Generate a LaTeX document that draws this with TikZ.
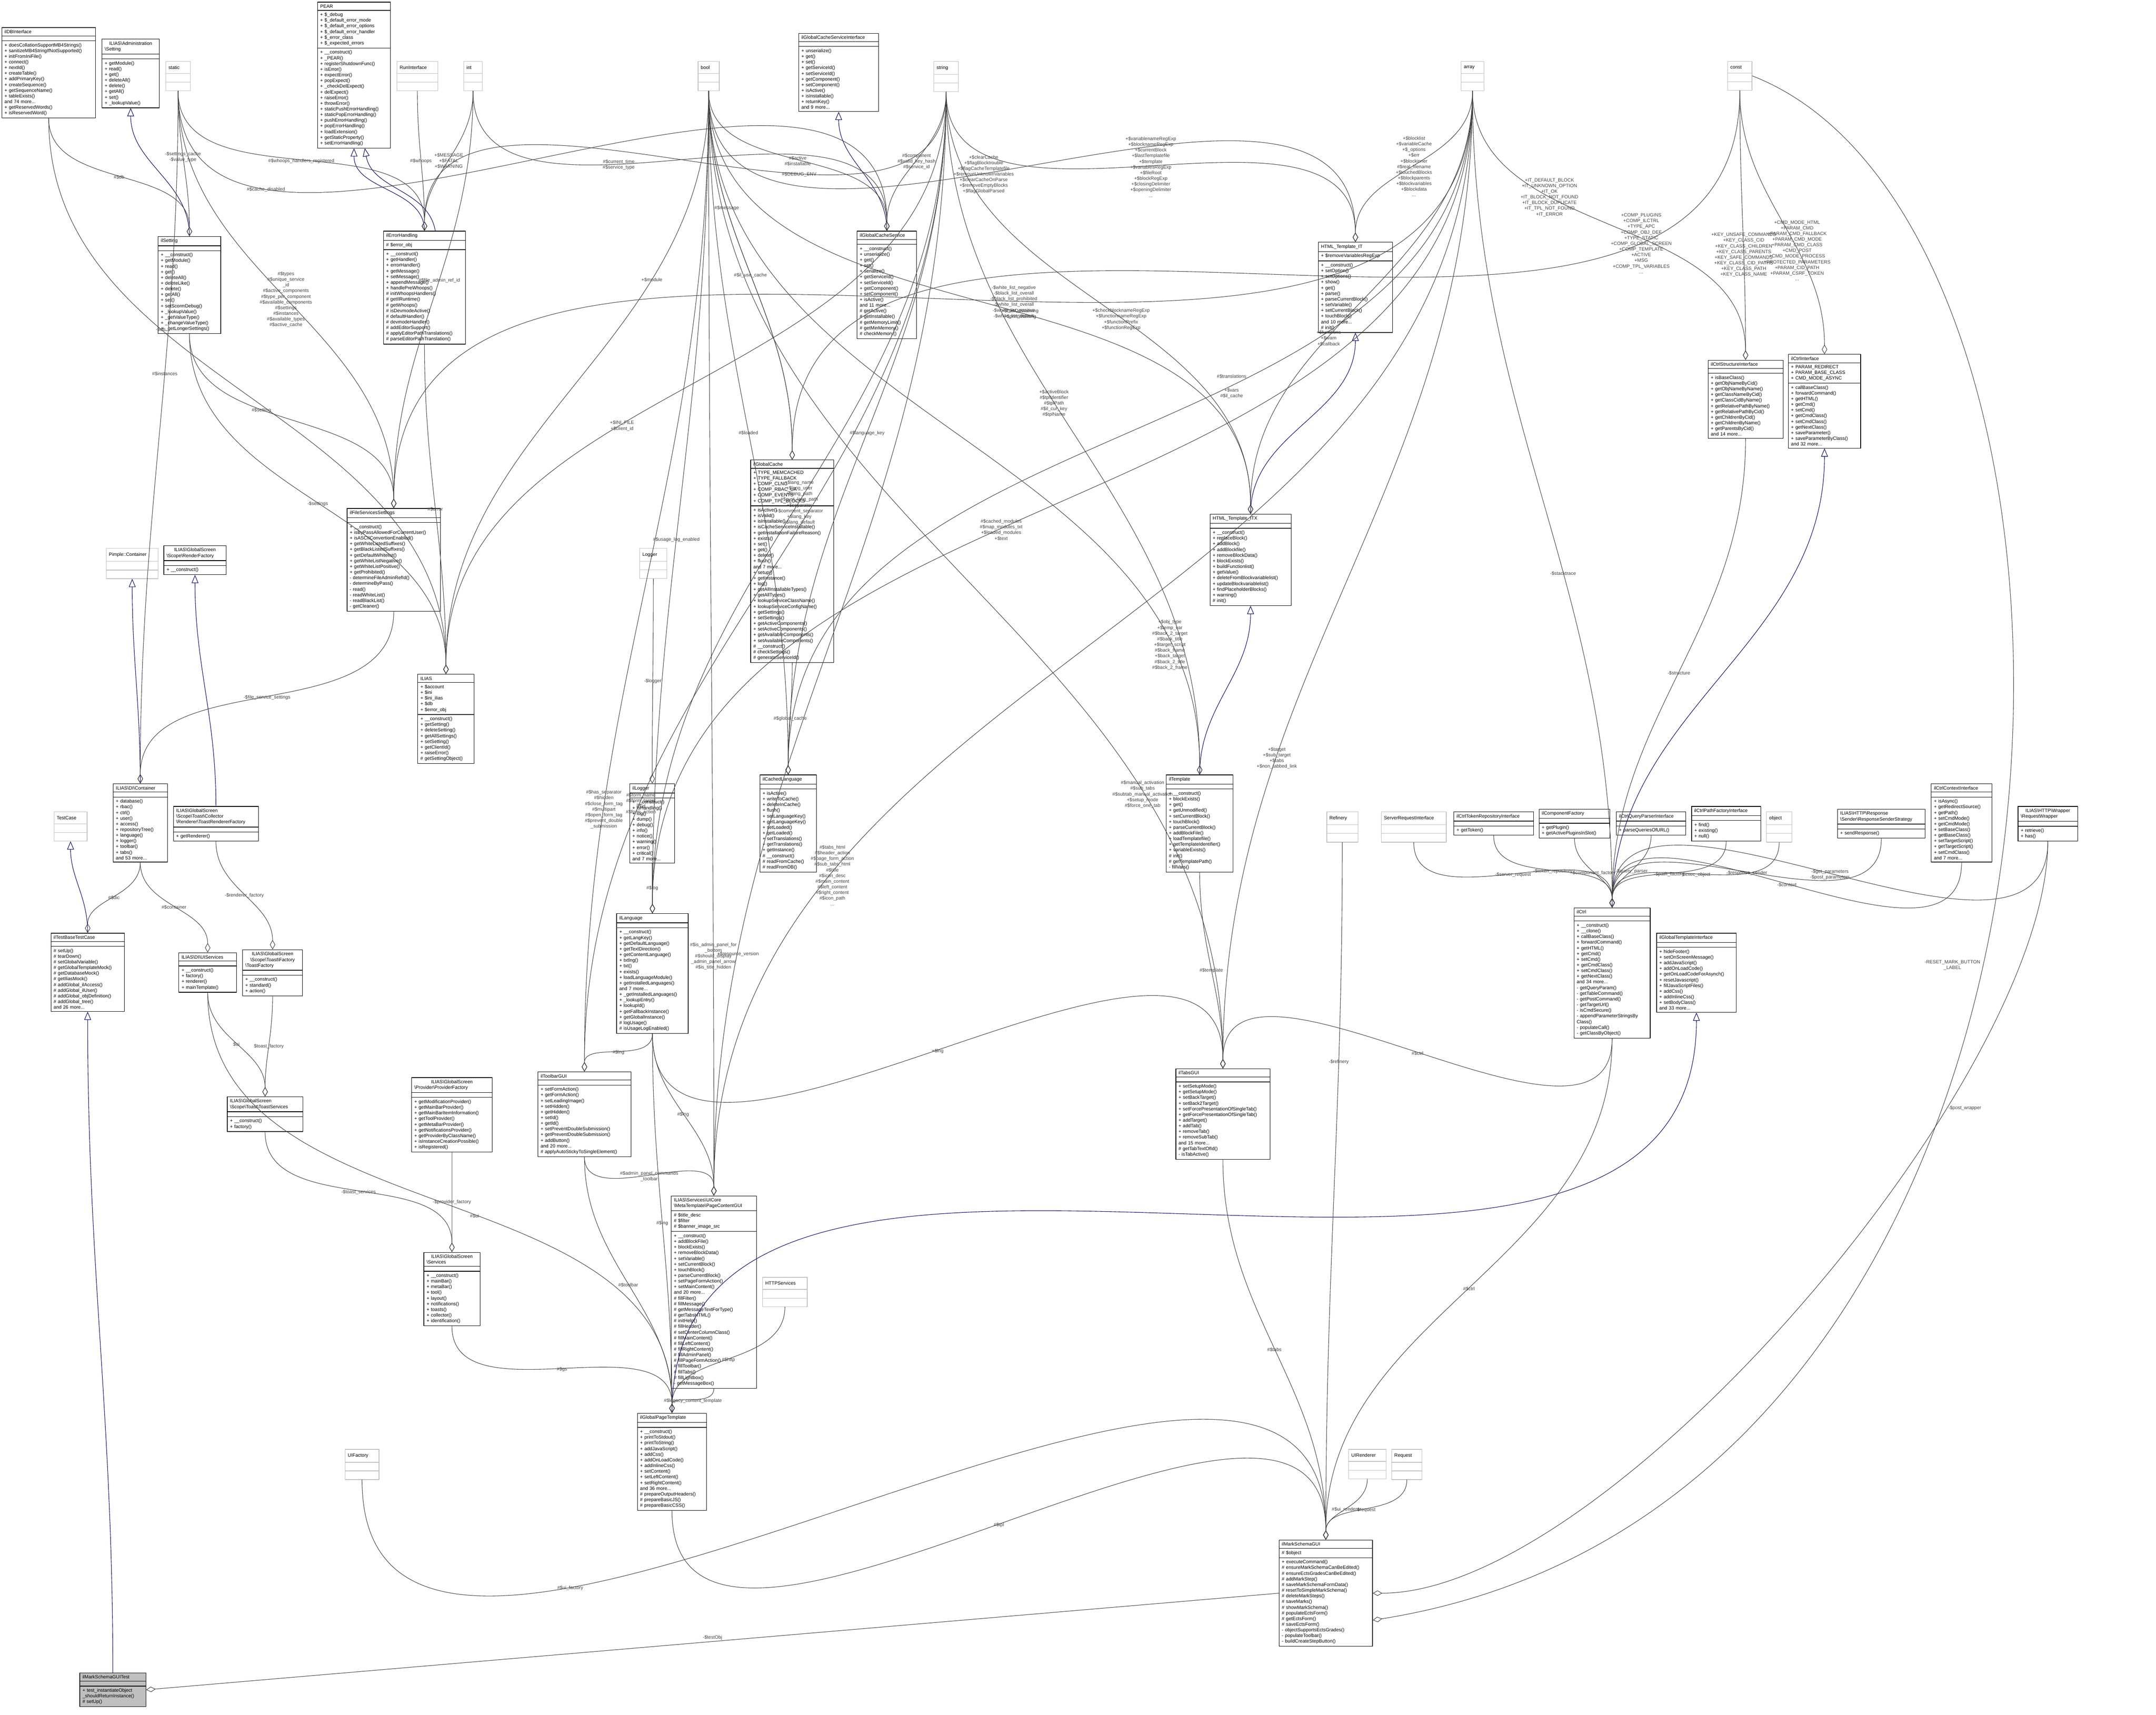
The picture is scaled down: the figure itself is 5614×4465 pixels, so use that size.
\documentclass[tikz,border=0pt]{standalone}
\usepackage{fontspec}
\setmainfont{Liberation Sans}
\usetikzlibrary{shapes.multipart}
\usetikzlibrary{arrows.meta}

\tikzset{
  every node/.style = {font = \fontsize{3.5}{4.2}\selectfont},
  cls/.style = {draw, rectangle split, rectangle split parts = 3,
    anchor = north west, align = left, inner xsep = 2pt, inner ysep = 1.6pt,
    rectangle split empty part height = 3pt, line width = .4pt},
  ext/.style = {cls, draw = black!25, inner ysep = 3pt,
    rectangle split empty part height = 4pt},
  mem/.style = {-{Diamond[open, length = 7pt, width = 4pt]}, black!75,
    line width = .35pt},
  inh/.style = {-{Triangle[open, length = 6pt, width = 5pt]}, blue!40!black,
    line width = .35pt},
  lbl/.style = {align = center, inner sep = 1pt}
}
\newcommand{\ttl}[1]{\centering #1}

\begin{document}
\begin{tikzpicture}[x = .01cm, y = -.01cm, line join = round, line cap = round]
  \useasboundingbox (0, 0) rectangle (5614, 4465);

  % top row
  \node[cls, text width = 2.3cm] (dbi) at (4, 71) {\ttl{ilDBInterface}
    \nodepart{two}\nodepart{three}+ doesCollationSupportMB4Strings()\\
    + sanitizeMB4StringIfNotSupported()\\+ initFromIniFile()\\+ connect()\\
    + nextId()\\+ createTable()\\+ addPrimaryKey()\\+ createSequence()\\
    + getSequenceName()\\+ tableExists()\\and 74 more...\\
    + getReservedWords()\\+ isReservedWord()};
  \node[cls, text width = 1.35cm] (admset) at (265, 101)
  {\ttl{ILIAS\textbackslash Administration\\\textbackslash Setting}
    \nodepart{two}\nodepart{three}+ getModule()\\+ read()\\+ get()\\
    + deleteAll()\\+ delete()\\+ getAll()\\+ set()\\+ \_lookupValue()};
  \node[ext, text width = .5cm] (static) at (431, 159) {\ttl{static}
    \nodepart{two}\nodepart{three}};
  \node[cls, text width = 1.76cm] (pear) at (826, 5) {\ttl{PEAR}
    \nodepart{two}+ \$\_debug\\+ \$\_default\_error\_mode\\
    + \$\_default\_error\_options\\+ \$\_default\_error\_handler\\
    + \$\_error\_class\\+ \$\_expected\_errors
    \nodepart{three}+ \_\_construct()\\+ \_PEAR()\\
    + registerShutdownFunc()\\+ isError()\\+ expectError()\\+ popExpect()\\
    + \_checkDelExpect()\\+ delExpect()\\+ raiseError()\\+ throwError()\\
    + staticPushErrorHandling()\\+ staticPopErrorHandling()\\
    + pushErrorHandling()\\+ popErrorHandling()\\+ loadExtension()\\
    + getStaticProperty()\\+ setErrorHandling()};
  \node[ext, text width = .92cm] (runif) at (1033, 159) {\ttl{RunInterface}
    \nodepart{two}\nodepart{three}};
  \node[ext, text width = .34cm] (int) at (1207, 159) {\ttl{int}
    \nodepart{two}\nodepart{three}};
  \node[ext, text width = .41cm] (bool) at (1817, 159) {\ttl{bool}
    \nodepart{two}\nodepart{three}};
  \node[cls, text width = 1.94cm] (gcsi) at (2079, 86)
  {\ttl{ilGlobalCacheServiceInterface}\nodepart{two}\nodepart{three}
    + unserialize()\\+ get()\\+ set()\\+ getServiceId()\\+ setServiceId()\\
    + getComponent()\\+ setComponent()\\+ isActive()\\+ isInstallable()\\
    + returnKey()\\and 9 more...};
  \node[ext, text width = .5cm] (string) at (2431, 159) {\ttl{string}
    \nodepart{two}\nodepart{three}};
  \node[ext, text width = .45cm] (array) at (3804, 159) {\ttl{array}
    \nodepart{two}\nodepart{three}};
  \node[ext, text width = .49cm] (const) at (4498, 159) {\ttl{const}
    \nodepart{two}\nodepart{three}};

  % second row
  \node[cls, text width = 1.49cm] (ilsetting) at (411, 615) {\ttl{ilSetting}
    \nodepart{two}\nodepart{three}+ \_\_construct()\\+ getModule()\\+ read()\\
    + get()\\+ deleteAll()\\+ deleteLike()\\+ delete()\\+ getAll()\\+ set()\\
    + setScormDebug()\\+ \_lookupValue()\\+ \_getValueType()\\
    + \_changeValueType()\\+ \_getLongerSettings()};
  \node[cls, text width = 1.99cm] (errh) at (998, 601) {\ttl{ilErrorHandling}
    \nodepart{two}\# \$error\_obj\nodepart{three}+ \_\_construct()\\
    + getHandler()\\+ errorHandler()\\+ getMessage()\\+ setMessage()\\
    + appendMessage()\\+ handlePreWhoops()\\\# initWhoopsHandlers()\\
    \# getIlRuntime()\\\# getWhoops()\\\# isDevmodeActive()\\
    \# defaultHandler()\\\# devmodeHandler()\\\# addEditorSupport()\\
    \# applyEditorPathTranslations()\\\# parseEditorPathTranslation()};
  \node[cls, text width = 1.41cm] (gcs) at (2231, 601)
  {\ttl{ilGlobalCacheService}\nodepart{two}\nodepart{three}+ \_\_construct()\\
    + unserialize()\\+ get()\\+ set()\\+ serialize()\\+ getServiceId()\\
    + setServiceId()\\+ getComponent()\\+ setComponent()\\+ isActive()\\
    and 11 more...\\\# getActive()\\\# getInstallable()\\
    \# getMemoryLimit()\\\# getMinMemory()\\\# checkMemory()};
  \node[cls, text width = 1.79cm] (htmlit) at (3432, 630)
  {\ttl{HTML\_Template\_IT}\nodepart{two}+ \$removeVariablesRegExp
    \nodepart{three}+ \_\_construct()\\+ setOption()\\+ setOptions()\\
    + show()\\+ get()\\+ parse()\\+ parseCurrentBlock()\\+ setVariable()\\
    + setCurrentBlock()\\+ touchBlock()\\and 10 more...\\\# init()};
  \node[cls, text width = 1.81cm] (ctrlstruct) at (4447, 937)
  {\ttl{ilCtrlStructureInterface}\nodepart{two}\nodepart{three}
    + isBaseClass()\\+ getObjNameByCid()\\+ getObjNameByName()\\
    + getClassNameByCid()\\+ getClassCidByName()\\
    + getRelativePathByName()\\+ getRelativePathByCid()\\
    + getChildrenByCid()\\+ getChildrenByName()\\+ getParentsByCid()\\
    and 14 more...};
  \node[cls, text width = 1.74cm] (ctrlif) at (4656, 922)
  {\ttl{ilCtrlInterface}\nodepart{two}+ PARAM\_REDIRECT\\
    + PARAM\_BASE\_CLASS\\+ CMD\_MODE\_ASYNC\nodepart{three}
    + callBaseClass()\\+ forwardCommand()\\+ getHTML()\\+ getCmd()\\
    + setCmd()\\+ getCmdClass()\\+ setCmdClass()\\+ getNextClass()\\
    + saveParameter()\\+ saveParameterByClass()\\and 32 more...};

  % third row
  \node[cls, text width = 2.29cm] (fss) at (903, 1323)
  {\ttl{ilFileServicesSettings}\nodepart{two}\nodepart{three}
    + \_\_construct()\\+ isByPassAllowedForCurrentUser()\\
    + isASCIIConvertionEnabled()\\+ getWhiteListedSuffixes()\\
    + getBlackListedSuffixes()\\+ getDefaultWhitelist()\\
    + getWhiteListNegative()\\+ getWhiteListPositive()\\+ getProhibited()\\
    - determineFileAdminRefId()\\- determineByPass()\\- read()\\
    - readWhiteList()\\- readBlackList()\\- getCleaner()};
  \node[ext, text width = 1.21cm] (pimple) at (276, 1427)
  {\ttl{Pimple::Container}\nodepart{two}\nodepart{three}};
  \node[cls, text width = 1.48cm] (renderfac) at (426, 1420)
  {\ttl{ILIAS\textbackslash GlobalScreen\\\textbackslash Scope\textbackslash
    RenderFactory}\nodepart{two}\nodepart{three}+ \_\_construct()};
  \node[ext, text width = .57cm] (logger) at (1665, 1427) {\ttl{Logger}
    \nodepart{two}\nodepart{three}};
  \node[cls, text width = 2.02cm] (gcache) at (1954, 1197)
  {\ttl{ilGlobalCache}\nodepart{two}+ TYPE\_MEMCACHED\\+ TYPE\_FALLBACK\\
    + COMP\_CLNG\\+ COMP\_RBAC\_UA\\+ COMP\_EVENTS\\+ COMP\_TPL\_BLOCKS
    \nodepart{three}+ isActive()\\+ isValid()\\+ isInstallable()\\
    + isCacheServiceInstallable()\\+ getInstallationFailureReason()\\
    + exists()\\+ set()\\+ get()\\+ delete()\\+ flush()\\and 7 more...\\
    + setup()\\+ getInstance()\\+ log()\\+ getAllInstallableTypes()\\
    + getAllTypes()\\+ lookupServiceClassName()\\
    + lookupServiceConfigName()\\+ getSettings()\\+ setSettings()\\
    + getActiveComponents()\\+ setActiveComponents()\\
    + getAvailableComponents()\\+ setAvailableComponents()\\
    \# \_\_construct()\\\# checkSettings()\\\# generateServiceId()};
  \node[cls, text width = 1.97cm] (itx) at (3150, 1338)
  {\ttl{HTML\_Template\_ITX}\nodepart{two}\nodepart{three}+ \_\_construct()\\
    + replaceBlock()\\+ addBlock()\\+ addBlockfile()\\+ removeBlockData()\\
    + blockExists()\\+ buildFunctionlist()\\+ getValue()\\
    + deleteFromBlockvariablelist()\\+ updateBlockvariablelist()\\
    + findPlaceholderBlocks()\\+ warning()\\\# init()};

  % fourth row
  \node[cls, text width = 1.33cm] (ilias) at (1087, 1755) {\ttl{ILIAS}
    \nodepart{two}+ \$account\\+ \$ini\\+ \$ini\_ilias\\+ \$db\\
    + \$error\_obj\nodepart{three}+ \_\_construct()\\+ getSetting()\\
    + deleteSetting()\\+ getAllSettings()\\+ setSetting()\\+ getClientId()\\
    + raiseError()\\\# getSettingObject()};
  \node[cls, text width = 1.27cm] (dicont) at (294, 2040)
  {\ttl{ILIAS\textbackslash DI\textbackslash Container}\nodepart{two}
    \nodepart{three}+ database()\\+ rbac()\\+ ctrl()\\+ user()\\+ access()\\
    + repositoryTree()\\+ language()\\+ logger()\\+ toolbar()\\+ tabs()\\
    and 53 more...};
  \node[ext, text width = .72cm] (testcase) at (140, 2113) {\ttl{TestCase}
    \nodepart{two}\nodepart{three}};
  \node[cls, text width = 2.07cm] (toastrend) at (451, 2099)
  {ILIAS\textbackslash GlobalScreen\\\textbackslash Scope\textbackslash
    Toast\textbackslash Collector\\\textbackslash Renderer\textbackslash
    ToastRendererFactory\nodepart{two}\nodepart{three}+ getRenderer()};
  \node[cls, text width = 1.03cm] (illogger) at (1639, 2040)
  {\ttl{ilLogger}\nodepart{two}\nodepart{three}+ \_\_construct()\\
    + isHandling()\\+ log()\\+ dump()\\+ debug()\\+ info()\\+ notice()\\
    + warning()\\+ error()\\+ critical()\\and 7 more...};
  \node[cls, text width = 1.33cm] (cachedlang) at (1978, 2017)
  {\ttl{ilCachedLanguage}\nodepart{two}\nodepart{three}+ isActive()\\
    + writeToCache()\\+ deleteInCache()\\+ flush()\\+ setLanguageKey()\\
    + getLanguageKey()\\+ setLoaded()\\+ getLoaded()\\+ setTranslations()\\
    + getTranslations()\\+ getInstance()\\\# \_\_construct()\\
    \# readFromCache()\\\# readFromDB()};
  \node[cls, text width = 1.6cm] (iltpl) at (3036, 2017) {\ttl{ilTemplate}
    \nodepart{two}\nodepart{three}+ \_\_construct()\\+ blockExists()\\
    + get()\\+ getUnmodified()\\+ setCurrentBlock()\\+ touchBlock()\\
    + parseCurrentBlock()\\+ addBlockFile()\\+ loadTemplatefile()\\
    + getTemplateIdentifier()\\+ variableExists()\\\# init()\\
    \# getTemplatePath()\\- fillVars()};
  \node[ext, text width = .67cm] (refinery) at (3454, 2113) {\ttl{Refinery}
    \nodepart{two}\nodepart{three}};
  \node[ext, text width = 1.55cm] (serverreq) at (3596, 2113)
  {\ttl{ServerRequestInterface}\nodepart{two}\nodepart{three}};
  \node[cls, text width = 1.93cm] (token) at (3785, 2113)
  {\ttl{ilCtrlTokenRepositoryInterface}\nodepart{two}\nodepart{three}
    + getToken()};
  \node[cls, text width = 1.7cm] (compfac) at (4007, 2106)
  {\ttl{ilComponentFactory}\nodepart{two}\nodepart{three}+ getPlugin()\\
    + getActivePluginsInSlot()};
  \node[cls, text width = 1.67cm] (qparser) at (4208, 2113)
  {\ttl{ilCtrlQueryParserInterface}\nodepart{two}\nodepart{three}
    + parseQueriesOfURL()};
  \node[cls, text width = 1.66cm] (pathfac) at (4404, 2099)
  {\ttl{ilCtrlPathFactoryInterface}\nodepart{two}\nodepart{three}+ find()\\
    + existing()\\+ null()};
  \node[ext, text width = .52cm] (object) at (4599, 2113) {\ttl{object}
    \nodepart{two}\nodepart{three}};
  \node[cls, text width = 2.14cm] (respsend) at (4784, 2106)
  {ILIAS\textbackslash HTTP\textbackslash Response\\\textbackslash
    Sender\textbackslash ResponseSenderStrategy\nodepart{two}\nodepart{three}
    + sendResponse()};
  \node[cls, text width = 1.44cm] (ctxif) at (5028, 2040)
  {\ttl{ilCtrlContextInterface}\nodepart{two}\nodepart{three}+ isAsync()\\
    + getRedirectSource()\\+ getPath()\\+ setCmdMode()\\+ getCmdMode()\\
    + setBaseClass()\\+ getBaseClass()\\+ setTargetScript()\\
    + getTargetScript()\\+ setCmdClass()\\and 7 more...};
  \node[cls, text width = 1.41cm] (reqwrap) at (5254, 2099)
  {\ttl{ILIAS\textbackslash HTTP\textbackslash Wrapper\\\textbackslash
    RequestWrapper}\nodepart{two}\nodepart{three}+ retrieve()\\+ has()};

  % fifth row
  \node[cls, text width = 1.77cm] (testbase) at (132, 2429)
  {\ttl{ilTestBaseTestCase}\nodepart{two}\nodepart{three}\# setUp()\\
    \# tearDown()\\\# setGlobalVariable()\\\# getGlobalTemplateMock()\\
    \# getDatabaseMock()\\\# getIliasMock()\\\# addGlobal\_ilAccess()\\
    \# addGlobal\_ilUser()\\\# addGlobal\_objDefinition()\\
    \# addGlobal\_tree()\\and 26 more...};
  \node[cls, text width = 1.36cm] (uiserv) at (465, 2480)
  {\ttl{ILIAS\textbackslash DI\textbackslash UIServices}\nodepart{two}
    \nodepart{three}+ \_\_construct()\\+ factory()\\+ renderer()\\
    + mainTemplate()};
  \node[cls, text width = 1.42cm] (toastfac) at (631, 2472)
  {\ttl{ILIAS\textbackslash GlobalScreen\\\textbackslash Scope\textbackslash
    Toast\textbackslash Factory\\\textbackslash ToastFactory}\nodepart{two}
    \nodepart{three}+ \_\_construct()\\+ standard()\\+ action()};
  \node[cls, text width = 1.72cm] (illang) at (1605, 2378)
  {\ttl{ilLanguage}\nodepart{two}\nodepart{three}+ \_\_construct()\\
    + getLangKey()\\+ getDefaultLanguage()\\+ getTextDirection()\\
    + getContentLanguage()\\+ txtlng()\\+ txt()\\+ exists()\\
    + loadLanguageModule()\\+ getInstalledLanguages()\\and 7 more...\\
    + \_getInstalledLanguages()\\+ \_lookupEntry()\\+ lookupId()\\
    + getFallbackInstance()\\+ getGlobalInstance()\\\# logUsage()\\
    \# isUsageLogEnabled()};
  \node[cls, text width = 1.84cm] (ilctrl) at (4098, 2363) {\ttl{ilCtrl}
    \nodepart{two}\nodepart{three}+ \_\_construct()\\+ \_\_clone()\\
    + callBaseClass()\\+ forwardCommand()\\+ getHTML()\\+ getCmd()\\
    + setCmd()\\+ getCmdClass()\\+ setCmdClass()\\+ getNextClass()\\
    and 34 more...\\- getQueryParam()\\- getTableCommand()\\
    - getPostCommand()\\- getTargetUrl()\\- isCmdSecure()\\
    - appendParameterStringsBy\\Class()\\- populateCall()\\
    - getClassByObject()};
  \node[cls, text width = 1.93cm] (gtplif) at (4313, 2429)
  {\ttl{ilGlobalTemplateInterface}\nodepart{two}\nodepart{three}
    + hideFooter()\\+ setOnScreenMessage()\\+ addJavaScript()\\
    + addOnLoadCode()\\+ getOnLoadCodeForAsynch()\\+ resetJavascript()\\
    + fillJavaScriptFiles()\\+ addCss()\\+ addInlineCss()\\
    + setBodyClass()\\and 33 more...};

  % lower rows
  \node[cls, text width = 2.28cm] (toolbar) at (1400, 2790)
  {\ttl{ilToolbarGUI}\nodepart{two}\nodepart{three}+ setFormAction()\\
    + getFormAction()\\+ setLeadingImage()\\+ setHidden()\\+ getHidden()\\
    + setId()\\+ getId()\\+ setPreventDoubleSubmission()\\
    + getPreventDoubleSubmission()\\+ addButton()\\and 20 more...\\
    \# applyAutoStickyToSingleElement()};
  \node[cls, text width = 1.83cm] (toastserv) at (591, 2855)
  {ILIAS\textbackslash GlobalScreen\\\textbackslash Scope\textbackslash
    Toast\textbackslash ToastServices\nodepart{two}\nodepart{three}
    + \_\_construct()\\+ factory()};
  \node[cls, text width = 1.96cm] (provfac) at (1071, 2805)
  {\ttl{ILIAS\textbackslash GlobalScreen\\\textbackslash Provider\textbackslash
    ProviderFactory}\nodepart{two}\nodepart{three}
    + getModificationProvider()\\+ getMainBarProvider()\\
    + getMainBarItemInformation()\\+ getToolProvider()\\
    + getMetaBarProvider()\\+ getNotificationsProvider()\\
    + getProviderByClassName()\\+ isInstanceCreationPossible()\\
    + isRegistered()};
  \node[cls, text width = 2.31cm] (tabs) at (3061, 2782) {\ttl{ilTabsGUI}
    \nodepart{two}\nodepart{three}+ setSetupMode()\\+ getSetupMode()\\
    + setBackTarget()\\+ setBack2Target()\\
    + setForcePresentationOfSingleTab()\\
    + getForcePresentationOfSingleTab()\\+ addTarget()\\+ addTab()\\
    + removeTab()\\+ removeSubTab()\\and 15 more...\\\# getTabTextOfId()\\
    - isTabActive()};
  \node[cls, text width = 1.32cm] (gsserv) at (1103, 3260)
  {\ttl{ILIAS\textbackslash GlobalScreen\\\textbackslash Services}
    \nodepart{two}\nodepart{three}+ \_\_construct()\\+ mainBar()\\
    + metaBar()\\+ tool()\\+ layout()\\+ notifications()\\+ toasts()\\
    + collector()\\+ identification()};
  \node[cls, text width = 2.08cm] (pagecontent) at (1747, 3113)
  {ILIAS\textbackslash Services\textbackslash UICore\\\textbackslash
    MetaTemplate\textbackslash PageContentGUI\nodepart{two}
    \# \$title\_desc\\\# \$filter\\\# \$banner\_image\_src\nodepart{three}
    + \_\_construct()\\+ addBlockFile()\\+ blockExists()\\
    + removeBlockData()\\+ setVariable()\\+ setCurrentBlock()\\
    + touchBlock()\\+ parseCurrentBlock()\\+ setPageFormAction()\\
    + setMainContent()\\and 20 more...\\\# fillFilter()\\\# fillMessage()\\
    \# getMessageTextForType()\\\# getTabsHTML()\\\# initHelp()\\
    \# fillHeader()\\\# setCenterColumnClass()\\\# fillMainContent()\\
    \# fillLeftContent()\\\# fillRightContent()\\\# fillAdminPanel()\\
    \# fillPageFormAction()\\\# fillToolbar()\\\# fillTabs()\\
    \# fillLightbox()\\- getMessageBox()};
  \node[ext, text width = 1.02cm] (httpserv) at (1985, 3325)
  {\ttl{HTTPServices}\nodepart{two}\nodepart{three}};
  \node[cls, text width = 1.66cm] (gpt) at (1659, 3679)
  {\ttl{ilGlobalPageTemplate}\nodepart{two}\nodepart{three}
    + \_\_construct()\\+ printToStdout()\\+ printToString()\\
    + addJavaScript()\\+ addCss()\\+ addOnLoadCode()\\+ addInlineCss()\\
    + setContent()\\+ setLeftContent()\\+ setRightContent()\\
    and 36 more...\\\# prepareOutputHeaders()\\\# prepareBasicJS()\\
    \# prepareBasicCSS()};
  \node[ext, text width = .74cm] (uifactory) at (898, 3773)
  {\ttl{UIFactory}\nodepart{two}\nodepart{three}};
  \node[ext, text width = .83cm] (uirend) at (3511, 3773)
  {\ttl{UIRenderer}\nodepart{two}\nodepart{three}};
  \node[ext, text width = .65cm] (request) at (3623, 3773)
  {\ttl{Request}\nodepart{two}\nodepart{three}};
  \node[cls, text width = 2.29cm] (msgui) at (3330, 4009)
  {\ttl{ilMarkSchemaGUI}\nodepart{two}\# \$object\nodepart{three}
    + executeCommand()\\\# ensureMarkSchemaCanBeEdited()\\
    \# ensureEctsGradesCanBeEdited()\\\# addMarkStep()\\
    \# saveMarkSchemaFormData()\\\# resetToSimpleMarkSchema()\\
    \# deleteMarkSteps()\\\# saveMarks()\\\# showMarkSchema()\\
    \# populateEctsForm()\\\# getEctsForm()\\\# saveEctsForm()\\
    - objectSupportsEctsGrades()\\- populateToolbar()\\
    - buildCreateStepButton()};
  \node[cls, fill = black!25, text width = 1.58cm] (msguitest) at (207, 4355)
  {\ttl{ilMarkSchemaGUITest}\nodepart{two}\nodepart{three}
    + test\_instantiateObject\\\_shouldReturnInstance()\\\# setUp()};

  % inheritance
  \foreach \c/\p in {ilsetting/admset, errh/pear, gcs/gcsi, itx/htmlit,
    iltpl/itx, dicont/pimple, toastrend/renderfac, testbase/testcase,
    msguitest/testbase, ilctrl/ctrlif, gpt/gtplif}
    \draw[inh] (\c) to[out = 90, in = -90] (\p);
  \draw[inh] ([xshift = 8pt]errh.north) to[out = 100, in = -80]
  ([xshift = 8pt]pear.south);

  % members
  \foreach \t/\o/\p/\l in {
    static/ilsetting/.45/{-\$settings\_cache\\-\$value\_type},
    dbi/ilsetting/.5/{\#\$db},
    dbi/ilias/.35/{-\$db},
    static/errh/.5/{\#\$whoops\_handlers\_registered},
    runif/errh/.5/{\#\$whoops},
    int/errh/.5/{+\$MESSAGE\\+\$FATAL\\+\$WARNING},
    string/errh/.35/{\#\$DEBUG\_ENV},
    static/gcs/.22/{\#\$cache\_disabled},
    bool/gcs/.5/{\#\$active\\\#\$installable},
    int/gcs/.4/{\#\$current\_time\\\#\$service\_type},
    string/gcs/.5/{\#\$component\\\#\$valid\_key\_hash\\\#\$service\_id},
    bool/ilias/.3/{+\$module},
    bool/gcache/.3/{\#\$message},
    string/htmlit/.5/{+\$variablenameRegExp\\+\$blocknameRegExp\\
      +\$currentBlock\\+\$lastTemplatefile\\+\$template\\
      +\$variablesRegExp\\+\$fileRoot\\+\$blockRegExp\\
      +\$closingDelimiter\\+\$openingDelimiter\\...},
    array/htmlit/.5/{+\$blocklist\\+\$variableCache\\+\$\_options\\+\$err\\
      +\$blockinner\\\#\$real\_filename\\+\$touchedBlocks\\
      +\$blockparents\\+\$blockvariables\\+\$blockdata\\...},
    bool/htmlit/.45/{+\$clearCache\\+\$flagBlocktrouble\\
      +\$flagCacheTemplatefile\\+\$removeUnknownVariables\\
      +\$clearCacheOnParse\\+\$removeEmptyBlocks\\+\$flagGlobalParsed},
    array/ctrlstruct/.35/{+IT\_DEFAULT\_BLOCK\\+IT\_UNKNOWN\_OPTION\\+IT\_OK\\
      +IT\_BLOCK\_NOT\_FOUND\\+IT\_BLOCK\_DUPLICATE\\+IT\_TPL\_NOT\_FOUND\\
      +IT\_ERROR},
    string/itx/.55/{+\$checkblocknameRegExp\\+\$functionnameRegExp\\
      +\$functionPrefix\\+\$functionRegExp},
    bool/itx/.55/{+\$haltOnWarning\\+\$printWarning},
    array/itx/.6/{+\$functions\\+\$warn\\+\$callback},
    string/iltpl/.45/{+\$activeBlock\\\#\$tplIdentifier\\\#\$tplPath\\
      \#\$il\_cur\_key\\\#\$tplName},
    bool/iltpl/.85/{+\$obj\_type\\+\$temp\_var\\\#\$back\_2\_target\\
      \#\$back\_title\\+\$target\_script\\\#\$back\_frame\\
      +\$back\_target\\\#\$back\_2\_title\\\#\$back\_2\_frame},
    const/gcache/.2/{+COMP\_PLUGINS\\+COMP\_ILCTRL\\+TYPE\_APC\\
      +COMP\_OBJ\_DEF\\+TYPE\_STATIC\\+COMP\_GLOBAL\_SCREEN\\
      +COMP\_TEMPLATE\\+ACTIVE\\+MSG\\+COMP\_TPL\_VARIABLES\\...},
    static/fss/.5/{\#\$types\\\#\$unique\_service\\\_id\\
      \#\$active\_components\\\#\$type\_per\_component\\
      \#\$available\_components\\\#\$settings\\\#\$instances\\
      \#\$available\_types\\\#\$active\_cache},
    bool/gcache/.5/{\#\$il\_use\_cache},
    string/cachedlang/.5/{\#\$language\_key},
    bool/cachedlang/.5/{\#\$loaded},
    array/cachedlang/.4/{\#\$translations\\[6pt]+\$vars\\\#\$il\_cache},
    const/ctrlstruct/.62/{+KEY\_UNSAFE\_COMMANDS\\+KEY\_CLASS\_CID\\
      +KEY\_CLASS\_CHILDREN\\+KEY\_CLASS\_PARENTS\\+KEY\_SAFE\_COMMANDS\\
      +KEY\_CLASS\_CID\_PATHS\\+KEY\_CLASS\_PATH\\+KEY\_CLASS\_NAME},
    const/ctrlif/.62/{+CMD\_MODE\_HTML\\+PARAM\_CMD\\+PARAM\_CMD\_FALLBACK\\
      +PARAM\_CMD\_MODE\\+PARAM\_CMD\_CLASS\\+CMD\_POST\\
      +CMD\_MODE\_PROCESS\\+PROTECTED\_PARAMETERS\\+PARAM\_CID\_PATH\\
      +PARAM\_CSRF\_TOKEN\\...},
    errh/ilias/.5/{\#\$error},
    string/ilias/.6/{+\$INI\_FILE\\+\$client\_id},
    ilsetting/fss/.4/{\#\$setting},
    ilsetting/ilias/.5/{-\$settings},
    int/fss/.45/{\#\$file\_admin\_ref\_id},
    array/fss/.45/{-\$white\_list\_negative\\-\$black\_list\_overall\\
      -\$black\_list\_prohibited\\-\$white\_list\_overall\\
      -\$white\_list\_positive\\-\$white\_list\_default},
    fss/dicont/.5/{-\$file\_service\_settings},
    static/dicont/.4/{\#\$instances},
    dicont/testbase/.5/{\#\$dic},
    dicont/uiserv/.5/{\#\$container},
    toastrend/toastfac/.5/{-\$renderer\_factory},
    logger/illogger/.5/{-\$logger},
    illogger/illang/.5/{\#\$log},
    bool/illang/.55/{\#\$usage\_log\_enabled},
    string/illang/.5/{+\$lang\_name\\+\$lang\_user\\+\$lang\_path\\
      \#\$cust\_lang\_path\\+\$separator\\+\$comment\_separator\\
      +\$lang\_key\\+\$lang\_default},
    array/illang/.55/{\#\$cached\_modules\\\#\$map\_modules\_txt\\
      +\$loaded\_modules\\+\$text},
    gcache/cachedlang/.5/{\#\$global\_cache},
    bool/toolbar/.75/{\#\$has\_separator\\\#\$hidden\\\#\$close\_form\_tag\\
      \#\$multipart\\\#\$open\_form\_tag\\\#\$prevent\_double\\
      \_submission},
    string/toolbar/.75/{\#\$form\_name\\\#\$form\_target\\\#\$id\\
      \#\$form\_action},
    illang/toolbar/.5/{\#\$lng},
    uiserv/toastserv/.5/{\$ui},
    toastfac/toastserv/.5/{\$toast\_factory},
    toastserv/gsserv/.5/{-\$toast\_services},
    provfac/gsserv/.5/{-\$provider\_factory},
    iltpl/tabs/.5/{\#\$template},
    bool/tabs/.75/{\#\$manual\_activation\\\#\$sub\_tabs\\
      \#\$subtab\_manual\_activation\\+\$setup\_mode\\\#\$force\_one\_tab},
    array/tabs/.7/{+\$target\\+\$sub\_target\\+\$tabs\\
      +\$non\_tabbed\_link},
    illang/tabs/.5/{+\$lng},
    ilctrl/tabs/.5/{\#\$ctrl},
    toolbar/pagecontent/.5/{\#\$admin\_panel\_commands\\\_toolbar},
    illang/pagecontent/.5/{\#\$lng},
    array/pagecontent/.75/{\#\$tabs\_html\\\#\$header\_action\\
      \#\$page\_form\_action\\\#\$sub\_tabs\_html\\\#\$title\\
      \#\$icon\_desc\\\#\$main\_content\\\#\$left\_content\\
      \#\$right\_content\\\#\$icon\_path\\...},
    string/pagecontent/.8/{+\$resource\_version},
    bool/pagecontent/.8/{\#\$is\_admin\_panel\_for\\\_bottom\\
      \#\$should\_display\\\_admin\_panel\_arrow\\\#\$is\_title\_hidden},
    pagecontent/gpt/.5/{\#\$legacy\_content\_template},
    httpserv/gpt/.5/{\#\$http},
    gsserv/gpt/.5/{\#\$gs},
    toolbar/gpt/.5/{\#\$toolbar},
    illang/gpt/.5/{\#\$lng},
    uiserv/gpt/.55/{\#\$ui},
    tabs/msgui/.5/{\#\$tabs},
    refinery/msgui/.3/{-\$refinery},
    uirend/msgui/.5/{\#\$ui\_renderer},
    request/msgui/.5/{\$request},
    gpt/msgui/.5/{\#\$tpl},
    uifactory/msgui/.3/{\#\$ui\_factory},
    ilctrl/msgui/.5/{\#\$ctrl},
    ctrlstruct/ilctrl/.5/{-\$structure},
    array/ilctrl/.6/{-\$stacktrace},
    serverreq/ilctrl/.5/{-\$server\_request},
    token/ilctrl/.5/{-\$token\_repository},
    compfac/ilctrl/.5/{-\$component\_factory},
    qparser/ilctrl/.5/{-\$query\_parser},
    pathfac/ilctrl/.5/{-\$path\_factory},
    object/ilctrl/.5/{-\$exec\_object},
    respsend/ilctrl/.5/{-\$response\_sender},
    ctxif/ilctrl/.5/{-\$context},
    reqwrap/ilctrl/.5/{-\$get\_parameters\\-\$post\_parameters}}
    \draw[mem] (\t) to[out = -90, in = 90] node[lbl, pos = \p] {\l} (\o);

  % long right-hand connectors into ilMarkSchemaGUI
  \draw[mem] (reqwrap.south) to[out = -90, in = 0, looseness = .6]
  node[lbl, pos = .3, right] {-\$post\_wrapper} (msgui.east);
  \draw[mem] (const.east) .. controls (5600, 600) and (5580, 3900) ..
  node[lbl, pos = .55, left] {-RESET\_MARK\_BUTTON\\\_LABEL}
  ([yshift = -20pt]msgui.east);
  \draw[mem] (msgui.west) -- node[lbl, pos = .5, above] {-\$testObj}
  (msguitest.east);
\end{tikzpicture}
\end{document}
